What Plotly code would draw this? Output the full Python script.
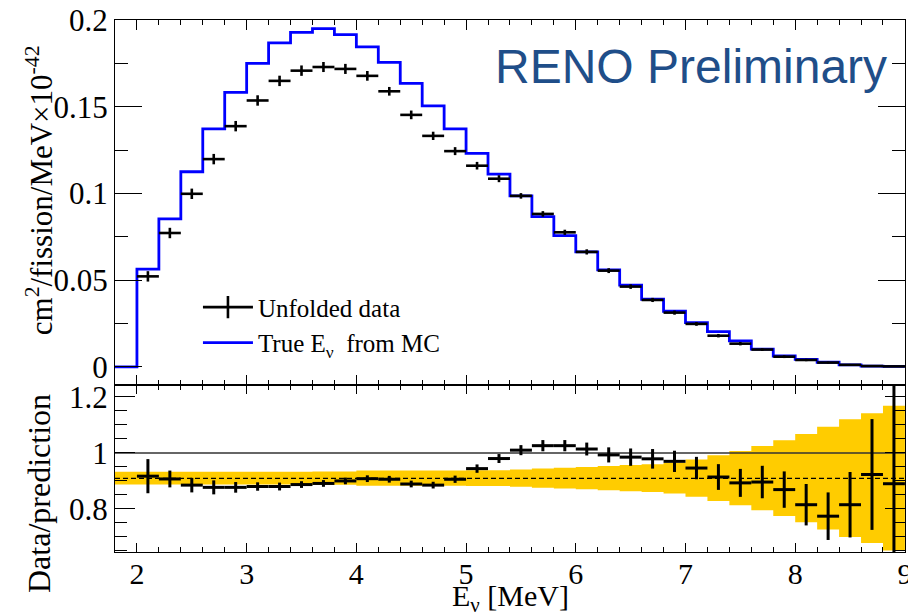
import plotly.graph_objects as go

# ---------------- data ----------------
# histogram bin edges (MeV) for the MC prediction and the band
bin_edges = [1.8, 2.0, 2.2, 2.4, 2.6, 2.8, 3.0, 3.2, 3.4, 3.6, 3.8, 4.0, 4.2, 4.4,
             4.6, 4.8, 5.0, 5.2, 5.4, 5.6, 5.8, 6.0, 6.2, 6.4, 6.6, 6.8, 7.0, 7.2,
             7.4, 7.6, 7.8, 8.0, 8.2, 8.4, 8.6, 8.8, 9.0]
# MC prediction per bin (1.8-2.0 ... 8.8-9.0)
mc_values = [0.0, 0.0564, 0.0854, 0.1125, 0.1372, 0.1583, 0.1750, 0.1868, 0.1929,
             0.1950, 0.1916, 0.1845, 0.1756, 0.1635, 0.1505, 0.1372, 0.1231, 0.1111,
             0.0986, 0.0866, 0.0757, 0.0663, 0.0559, 0.0471, 0.0390, 0.0321, 0.0255,
             0.0204, 0.0150, 0.0102, 0.0063, 0.0044, 0.0027, 0.0012, 0.0005, 0.0003]

# data points (bin centres)
bin_centers = [2.1, 2.3, 2.5, 2.7, 2.9, 3.1, 3.3, 3.5, 3.7, 3.9, 4.1, 4.3, 4.5, 4.7,
               4.9, 5.1, 5.3, 5.5, 5.7, 5.9, 6.1, 6.3, 6.5, 6.7, 6.9, 7.1, 7.3, 7.5,
               7.7, 7.9, 8.1, 8.3, 8.5, 8.7, 8.9]
half_bin = [0.1] * len(bin_centers)
data_values = [0.0522, 0.0772, 0.0998, 0.1198, 0.1388, 0.1536, 0.1649, 0.1708, 0.1729,
               0.1718, 0.1678, 0.1589, 0.1453, 0.1332, 0.1244, 0.1160, 0.1085, 0.0986,
               0.0882, 0.0776, 0.0663, 0.0555, 0.0463, 0.0386, 0.0313, 0.0248, 0.0180,
               0.0134, 0.0100, 0.0059, 0.0040, 0.0025, 0.0012, 0.0005, 0.0003]
data_errors = [0.0030, 0.0030, 0.0030, 0.0030, 0.0030, 0.0030, 0.0030, 0.0030, 0.0029,
               0.0029, 0.0028, 0.0025, 0.0025, 0.0024, 0.0023, 0.0022, 0.0020, 0.0016,
               0.0016, 0.0015, 0.0015, 0.0014, 0.0013, 0.0012, 0.0012, 0.0011, 0.0010,
               0.0010, 0.0008, 0.0008, 0.0007, 0.0006, 0.0005, 0.0004, 0.0003]

ratio_values = [0.917, 0.907, 0.885, 0.877, 0.877, 0.880, 0.880, 0.887, 0.891, 0.900,
                0.908, 0.906, 0.889, 0.885, 0.906, 0.944, 0.980, 1.010, 1.026, 1.026,
                1.014, 0.993, 0.985, 0.979, 0.970, 0.946, 0.914, 0.893, 0.896, 0.869,
                0.815, 0.774, 0.815, 0.923, 0.890]
ratio_errors = [0.061, 0.030, 0.026, 0.025, 0.019, 0.015, 0.014, 0.012, 0.012, 0.012,
                0.012, 0.012, 0.012, 0.012, 0.013, 0.015, 0.016, 0.018, 0.020, 0.020,
                0.023, 0.027, 0.031, 0.035, 0.038, 0.040, 0.046, 0.050, 0.058, 0.065,
                0.074, 0.085, 0.117, 0.198, 0.400]

# systematic band (centre and half-width per bin, 1.8-2.0 ... 8.8-9.0)
band_center = 0.910
band_halfwidth = [0.023, 0.023, 0.023, 0.023, 0.023, 0.023, 0.023, 0.023, 0.023,
                  0.024, 0.024, 0.027, 0.027, 0.027, 0.027, 0.027, 0.028, 0.028,
                  0.031, 0.034, 0.037, 0.040, 0.043, 0.047, 0.050, 0.055, 0.067,
                  0.082, 0.097, 0.115, 0.135, 0.158, 0.184, 0.210, 0.232, 0.259]
norm_level = 0.909   # dashed line
unity_level = 1.0

x_range = [1.8, 9.0]
x_ticks = [2, 3, 4, 5, 6, 7, 8, 9]
top_ticks = [0, 0.05, 0.1, 0.15, 0.2]
top_ticktext = ["0", "0.05", "0.1", "0.15", "0.2"]
bot_ticks = [0.8, 1.0, 1.2]
bot_ticktext = ["0.8", "1", "1.2"]

# ---------------- figure ----------------
SERIF = "Liberation Serif"
INVISIBLE = dict(size=1, color="rgba(0,0,0,0)", line=dict(width=0))
fig = go.Figure()

# MC histogram
fig.add_trace(go.Scatter(
    x=bin_edges, y=mc_values + [mc_values[-1]], mode="lines", line_shape="hv",
    line=dict(color="#0000FF", width=2.8), showlegend=False, xaxis="x", yaxis="y"))

# data crosses (top)
fig.add_trace(go.Scatter(
    x=bin_centers, y=data_values, mode="markers", marker=INVISIBLE,
    error_x=dict(type="data", array=half_bin, width=0, thickness=2.6, color="black"),
    error_y=dict(type="data", array=data_errors, width=0, thickness=2.6, color="black"),
    showlegend=False, xaxis="x", yaxis="y"))

# band (bottom)
band_lo = [band_center - h for h in band_halfwidth]
band_hi = [band_center + h for h in band_halfwidth]
fig.add_trace(go.Scatter(
    x=bin_edges, y=band_lo + [band_lo[-1]], mode="lines", line_shape="hv",
    line=dict(width=0, color="#FFCC00"), showlegend=False, xaxis="x2", yaxis="y2"))
fig.add_trace(go.Scatter(
    x=bin_edges, y=band_hi + [band_hi[-1]], mode="lines", line_shape="hv",
    line=dict(width=0, color="#FFCC00"), fill="tonexty", fillcolor="#FFCC00",
    showlegend=False, xaxis="x2", yaxis="y2"))

# reference lines
fig.add_trace(go.Scatter(
    x=x_range, y=[unity_level, unity_level], mode="lines",
    line=dict(color="#333333", width=1.4), showlegend=False, xaxis="x2", yaxis="y2"))
fig.add_trace(go.Scatter(
    x=x_range, y=[norm_level, norm_level], mode="lines",
    line=dict(color="black", width=1.4, dash="5px,3px"), showlegend=False,
    xaxis="x2", yaxis="y2"))

# ratio crosses
fig.add_trace(go.Scatter(
    x=bin_centers, y=ratio_values, mode="markers", marker=INVISIBLE,
    error_x=dict(type="data", array=half_bin, width=0, thickness=3, color="black"),
    error_y=dict(type="data", array=ratio_errors, width=0, thickness=3, color="black"),
    showlegend=False, xaxis="x2", yaxis="y2"))

# legend entries
fig.add_trace(go.Scatter(
    x=[None], y=[None], mode="lines+markers", name="Unfolded data",
    line=dict(color="black", width=2.6),
    marker=dict(symbol="line-ns-open", size=16, color="black",
                line=dict(color="black", width=2.6)),
    legendgroup="a", xaxis="x", yaxis="y"))
fig.add_trace(go.Scatter(
    x=[None], y=[None], mode="lines", name="True E<sub>ν</sub>  from MC",
    line=dict(color="#0000FF", width=2.8), legendgroup="b", xaxis="x", yaxis="y"))

axis_common = dict(showgrid=False, zeroline=False, showline=True, linecolor="black",
                   linewidth=1, mirror="allticks", ticks="inside", tickcolor="black",
                   automargin=False)

split = 0.314
x_axis_range = [x_range[0], x_range[1] + 0.0008]
fig.update_layout(
    width=908, height=612,
    margin=dict(l=115, r=3, t=20, b=60, autoexpand=False),
    paper_bgcolor="white", plot_bgcolor="white",
    font=dict(family=SERIF, color="black"),
    xaxis=dict(domain=[0, 1], anchor="y", range=x_axis_range, tickvals=x_ticks,
               ticklen=10, showticklabels=False,
               minor=dict(dtick=0.2, tick0=0, ticklen=5, ticks="inside", tickcolor="black"),
               **axis_common),
    xaxis2=dict(domain=[0, 1], anchor="y2", matches="x", range=x_axis_range,
                tickvals=x_ticks, ticklen=9, tickfont=dict(size=30, family=SERIF),
                ticklabelstandoff=-5, ticklabeloverflow="allow",
                minor=dict(dtick=0.2, tick0=0, ticklen=5, ticks="inside", tickcolor="black"),
                **axis_common),
    yaxis=dict(domain=[split, 1], anchor="x", range=[-0.0104, 0.2],
               tickvals=top_ticks, ticktext=top_ticktext, ticklen=27,
               tickfont=dict(size=31, family=SERIF),
               minor=dict(dtick=0.025, tick0=0, ticklen=13, ticks="inside", tickcolor="black"),
               **axis_common),
    yaxis2=dict(domain=[0, split], anchor="x2", range=[0.646, 1.243],
                tickvals=bot_ticks, ticktext=bot_ticktext, ticklen=20,
                tickfont=dict(size=31, family=SERIF),
                minor=dict(dtick=0.05, tick0=0, ticklen=12, ticks="inside", tickcolor="black"),
                **axis_common),
    legend=dict(x=0.105, y=0.503, xanchor="left", yanchor="top",
                bgcolor="rgba(0,0,0,0)", font=dict(family=SERIF, size=25, color="black"),
                itemwidth=50, tracegroupgap=0, traceorder="grouped"),
    annotations=[
        dict(text="RENO Preliminary", xref="paper", yref="paper", x=0.729, y=0.9117,
             xanchor="center", yanchor="middle", showarrow=False,
             font=dict(family="Liberation Sans", size=48, color="#1F4E89")),
        dict(text="cm<sup>2</sup>/fission/MeV×10<sup>-42</sup>", xref="paper", yref="paper",
             x=0, y=0.680, xshift=-76, xanchor="center", yanchor="middle", textangle=-90,
             showarrow=False, font=dict(family=SERIF, size=31, color="black")),
        dict(text="Data/prediction", xref="paper", yref="paper",
             x=0, y=0.109, xshift=-76, xanchor="center", yanchor="middle", textangle=-90,
             showarrow=False, font=dict(family=SERIF, size=32, color="black")),
        dict(text="E<sub>ν</sub> [MeV]", xref="paper", yref="paper",
             x=0.5, y=0, yshift=-25, xanchor="center", yanchor="top",
             showarrow=False, font=dict(family=SERIF, size=30, color="black")),
    ],
)

fig.write_html("out.html")
